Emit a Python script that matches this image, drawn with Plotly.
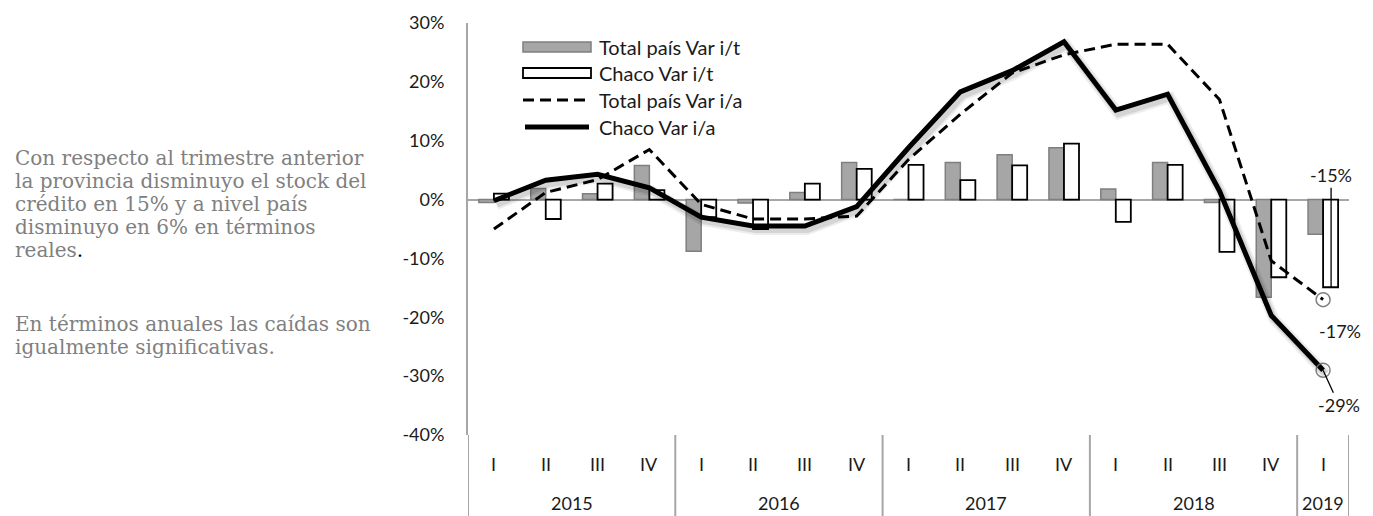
import plotly.graph_objects as go

# ---------------- data ----------------
quarters = ["I", "II", "III", "IV", "I", "II", "III", "IV", "I", "II", "III", "IV",
            "I", "II", "III", "IV", "I"]
years = ["2015", "2016", "2017", "2018", "2019"]
year_span = [4, 4, 4, 4, 1]

y_tick_vals = [-0.4, -0.3, -0.2, -0.1, 0.0, 0.1, 0.2, 0.3]
y_tick_text = ["-40%", "-30%", "-20%", "-10%", "0%", "10%", "20%", "30%"]

pais_it = [-0.005, 0.019, 0.010, 0.058, -0.088, -0.006, 0.012, 0.063, 0.000,
           0.063, 0.076, 0.088, 0.018, 0.063, -0.005, -0.166, -0.059]
chaco_it = [0.010, -0.033, 0.027, 0.016, -0.030, -0.050, 0.027, 0.052, 0.059,
            0.033, 0.058, 0.095, -0.038, 0.059, -0.089, -0.132, -0.149]
pais_ia = [-0.050, 0.012, 0.034, 0.085, -0.008, -0.033, -0.033, -0.028, 0.068,
           0.145, 0.215, 0.246, 0.264, 0.264, 0.170, -0.104, -0.170]
chaco_ia = [-0.002, 0.033, 0.043, 0.020, -0.030, -0.045, -0.045, -0.012, 0.088,
            0.183, 0.219, 0.268, 0.152, 0.179, 0.015, -0.197, -0.290]

series_names = ["Total país Var i/t", "Chaco Var i/t", "Total país Var i/a", "Chaco Var i/a"]

side_text = [
    "Con respecto al trimestre anterior",
    "la provincia disminuyo el stock del",
    "crédito en 15% y a nivel país",
    "disminuyo en 6% en términos",
    "reales<span style='color:#000000'>.</span>",
    "En términos anuales las caídas son",
    "igualmente significativas.",
]

# ---------------- geometry ----------------
OFF = 8                      # page body margin
W, H = 1357, 508
ML, MT = 460, 15
PW, PH = 881, 412
MR = W - ML - PW
MB = H - MT - PH
Y_MIN, Y_MAX = -0.40, 0.30
n = len(quarters)
x = list(range(n))


def px_x(p):
    return (p - OFF - ML) / PW


def px_y(p):
    return (MT + PH - (p - OFF)) / PH


GRAY_AX = "#a6a6a6"
TXT = "#1a1a1a"
FONT = "Lato, 'Open Sans', sans-serif"

fig = go.Figure()

# shadow for the solid line (drawn on shifted overlay axes)
for w, a in [(11, 0.07), (7, 0.10)]:
    fig.add_trace(go.Scatter(x=x, y=chaco_ia, mode="lines", xaxis="x2", yaxis="y2",
                             line=dict(color=f"rgba(0,0,0,{a})", width=w),
                             hoverinfo="skip", showlegend=False))

fig.add_trace(go.Bar(x=x, y=pais_it, name=series_names[0],
                     marker=dict(color="#a6a6a6", line=dict(color="#7f7f7f", width=1.5))))
fig.add_trace(go.Bar(x=x, y=chaco_it, name=series_names[1],
                     marker=dict(color="#ffffff", line=dict(color="#000000", width=1.8))))
fig.add_trace(go.Scatter(x=x, y=pais_ia, name=series_names[2], mode="lines",
                         line=dict(color="#000000", width=3, dash="11px,6px")))
fig.add_trace(go.Scatter(x=x, y=chaco_ia, name=series_names[3], mode="lines",
                         line=dict(color="#000000", width=5)))
# end markers
fig.add_trace(go.Scatter(x=[x[-1], x[-1]], y=[pais_ia[-1], chaco_ia[-1]], mode="markers",
                         marker=dict(symbol="circle-open", size=14, color="#808080",
                                     line=dict(color="#808080", width=1.5)),
                         showlegend=False, hoverinfo="skip"))

shapes = []
annotations = []

# category separators below plot
bounds = [-0.5]
for s in year_span:
    bounds.append(bounds[-1] + s)
for b in bounds:
    shapes.append(dict(type="line", xref="x", yref="paper", x0=b, x1=b,
                       y0=0, y1=-MB / PH,
                       line=dict(color=GRAY_AX, width=2)))
for i, yr in enumerate(years):
    c = (bounds[i] + bounds[i + 1]) / 2
    annotations.append(dict(x=c, xref="x", y=px_y(503), yref="paper", text=yr,
                            showarrow=False, font=dict(family=FONT, size=18, color=TXT),
                            xanchor="center", yanchor="middle"))
for i, q in enumerate(quarters):
    annotations.append(dict(x=i, xref="x", y=px_y(464), yref="paper", text=q,
                            showarrow=False, font=dict(family=FONT, size=18, color=TXT),
                            xanchor="center", yanchor="middle"))

# custom legend
leg_rows = [47, 73, 100, 127]
lx0, lx1, ltx = 523, 591, 597
shapes.append(dict(type="rect", xref="paper", yref="paper",
                   x0=px_x(lx0), x1=px_x(lx1), y0=px_y(leg_rows[0] + 5), y1=px_y(leg_rows[0] - 5),
                   fillcolor="#a6a6a6", line=dict(color="#7f7f7f", width=1.5)))
shapes.append(dict(type="rect", xref="paper", yref="paper",
                   x0=px_x(lx0), x1=px_x(lx1), y0=px_y(leg_rows[1] + 5), y1=px_y(leg_rows[1] - 5),
                   fillcolor="#ffffff", line=dict(color="#000000", width=1.8)))
shapes.append(dict(type="line", xref="paper", yref="paper",
                   x0=px_x(lx0), x1=px_x(lx1), y0=px_y(leg_rows[2]), y1=px_y(leg_rows[2]),
                   line=dict(color="#000000", width=3, dash="11px,6px")))
shapes.append(dict(type="line", xref="paper", yref="paper",
                   x0=px_x(lx0 + 2), x1=px_x(lx1 - 2), y0=px_y(leg_rows[3]), y1=px_y(leg_rows[3]),
                   line=dict(color="#000000", width=5)))
for r, nm in zip(leg_rows, series_names):
    annotations.append(dict(x=px_x(ltx), xref="paper", y=px_y(r), yref="paper", text=nm,
                            showarrow=False, xanchor="left", yanchor="middle",
                            font=dict(family=FONT, size=20, color=TXT)))

# value labels
annotations.append(dict(x=x[-1], y=chaco_it[-1], xref="x", yref="y", xshift=8,
                        text=f"{round(chaco_it[-1] * 100)}%", showarrow=True, arrowhead=0,
                        arrowwidth=1.3, arrowcolor="#000000", ax=0, ay=-112, standoff=0,
                        font=dict(family=FONT, size=18, color=TXT)))
annotations.append(dict(x=x[-1], y=pais_ia[-1], xref="x", yref="y", xshift=17, yshift=-31,
                        text=f"{round(pais_ia[-1] * 100)}%", showarrow=False,
                        font=dict(family=FONT, size=18, color=TXT)))
annotations.append(dict(x=x[-1], y=chaco_ia[-1], xref="x", yref="y",
                        text=f"{round(chaco_ia[-1] * 100)}%", showarrow=True, arrowhead=0,
                        arrowwidth=1.3, arrowcolor="#000000", ax=16, ay=35, standoff=0,
                        font=dict(family=FONT, size=18, color=TXT)))

# side text
side_y = [158, 181, 204, 227, 250, 324, 347]
for t, yy in zip(side_text, side_y):
    annotations.append(dict(x=px_x(13), xref="paper", y=px_y(yy), yref="paper", text=t,
                            showarrow=False, xanchor="left", yanchor="middle",
                            font=dict(family="'DejaVu Serif', serif", size=20, color="#808080")))

fig.update_layout(
    width=W, height=H,
    margin=dict(l=ML, r=MR, t=MT, b=MB, autoexpand=False),
    paper_bgcolor="white", plot_bgcolor="white",
    barmode="group", bargap=0.42, bargroupgap=0,
    showlegend=False,
    xaxis=dict(range=[-0.5, n - 0.5], showticklabels=False, showgrid=False,
               zeroline=False, showline=False, ticks="", automargin=False),
    xaxis2=dict(range=[-0.55, n - 0.55], overlaying="x", visible=False, automargin=False),
    yaxis=dict(range=[Y_MIN, Y_MAX], tickvals=y_tick_vals, ticktext=y_tick_text,
               showgrid=False, automargin=False,
               zeroline=True, zerolinecolor=GRAY_AX, zerolinewidth=2,
               showline=True, linecolor=GRAY_AX, linewidth=2,
               ticks="", ticklabelstandoff=18,
               tickfont=dict(family=FONT, size=18, color=TXT)),
    yaxis2=dict(range=[Y_MIN + 0.006, Y_MAX + 0.006], overlaying="y", visible=False,
                automargin=False),
    shapes=shapes,
    annotations=annotations,
)

fig.write_html("out.html")
